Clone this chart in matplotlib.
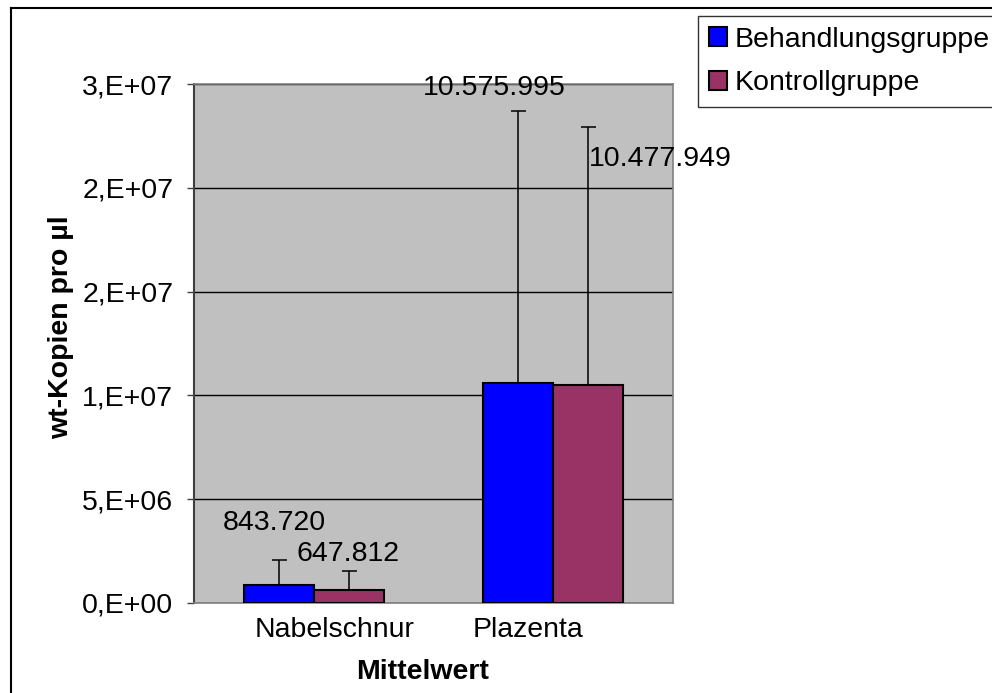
import matplotlib
matplotlib.use("Agg")
import matplotlib.pyplot as plt
import matplotlib.transforms as mtransforms
from matplotlib.lines import Line2D
from matplotlib.patches import Patch
import numpy as np

# ---- data ----
categories = ["Nabelschnur", "Plazenta"]
series_names = ["Behandlungsgruppe", "Kontrollgruppe"]
behandlung = [843720, 10575995]
kontroll = [647812, 10477949]
behandlung_err = [1230000, 13130000]
kontroll_err = [910000, 12460000]
yticks = [0, 5e6, 1e7, 1.5e7, 2e7, 2.5e7]
ytick_labels = ["0,E+00", "5,E+06", "1,E+07", "2,E+07", "2,E+07", "3,E+07"]
ylabel = "wt-Kopien pro µl"
xlabel = "Mittelwert"

# ---- style ----
plt.rcParams['font.family'] = ['Liberation Sans', 'DejaVu Sans']
FS = 20.5
W, H = 992, 693
fig = plt.figure(figsize=(W / 100, H / 100), dpi=100)
fig.patch.set_facecolor("white")

ax = fig.add_axes([194 / W, 1 - 603 / H, 479 / W, 519 / H])
ax.set_facecolor("#C0C0C0")

x = np.arange(len(categories))
bw = 0.293
colors = ["#0000FF", "#993366"]
vals = [behandlung, kontroll]
errs = [behandlung_err, kontroll_err]
offsets = [-bw / 2, bw / 2]

ax.set_axisbelow(True)
ax.yaxis.grid(True, color="black", linewidth=1.0)

for i in range(2):
    ax.bar(x + offsets[i], vals[i], width=bw, color=colors[i], edgecolor="black",
           linewidth=1.5, label=series_names[i], zorder=3)
    ax.errorbar(x + offsets[i], vals[i], yerr=[np.zeros(len(x)), errs[i]], fmt="none",
                ecolor="black", elinewidth=1.1, capsize=5.4, capthick=1.1, zorder=4)

# value labels (offsets in pixels from bar tops, as placed in the original)
label_offsets = [[(-4, 62), (-24, 295)], [(-1, 36), (72, 226)]]
for i in range(2):
    for j in range(len(x)):
        txt = f"{vals[i][j]:,}".replace(",", ".")
        ax.annotate(txt, xy=(x[j] + offsets[i], vals[i][j]), xytext=label_offsets[i][j],
                    textcoords="offset pixels", ha="center", va="center", fontsize=FS,
                    color="black", zorder=6, annotation_clip=False)

ax.set_xlim(-0.5, 1.5)
ax.set_ylim(0, 2.5e7)
ax.set_yticks(yticks)
ax.set_yticklabels(ytick_labels, fontsize=FS)
ax.set_xticks(x)
ax.set_xticklabels(categories, fontsize=FS)
ax.tick_params(axis="y", direction="out", length=5, width=1, color="#404040", pad=10)
ax.tick_params(axis="x", length=0, pad=10)
for lbl, dx in zip(ax.get_xticklabels(), [21, -25]):
    lbl.set_transform(lbl.get_transform() + mtransforms.Affine2D().translate(dx, 0))

for s in ["top", "right"]:
    ax.spines[s].set_color("#808080")
    ax.spines[s].set_linewidth(1.2)
ax.spines["left"].set_color("#404040")
ax.spines["left"].set_linewidth(1.5)
ax.spines["bottom"].set_color("#808080")
ax.spines["bottom"].set_linewidth(1.2)

fig.text(61 / W, 1 - 327 / H, ylabel, rotation=90, ha="center", va="center",
         fontsize=FS, fontweight="bold")
fig.text(423 / W, 1 - 672 / H, xlabel, ha="center", va="center",
         fontsize=FS, fontweight="bold")

handles = [Patch(facecolor=colors[i], edgecolor="black", linewidth=1.5) for i in range(2)]
leg = fig.legend(handles, series_names, loc="upper left",
                 bbox_to_anchor=(698 / W, 1 - 16 / H), bbox_transform=fig.transFigure,
                 borderaxespad=0, fontsize=FS, frameon=True, fancybox=False,
                 handlelength=0.64, handleheight=0.64, handletextpad=0.28,
                 borderpad=0.38, labelspacing=0.62)
leg.get_frame().set_edgecolor("black")
leg.get_frame().set_linewidth(1.0)

# chart border
fig.add_artist(Line2D([10.5 / W, 10.5 / W], [0, 1 - 8 / H], transform=fig.transFigure,
                      color="black", linewidth=1.5))
fig.add_artist(Line2D([10.5 / W, 1], [1 - 8 / H, 1 - 8 / H], transform=fig.transFigure,
                      color="black", linewidth=1.5))

fig.savefig("out.png", dpi=100, facecolor="white")
